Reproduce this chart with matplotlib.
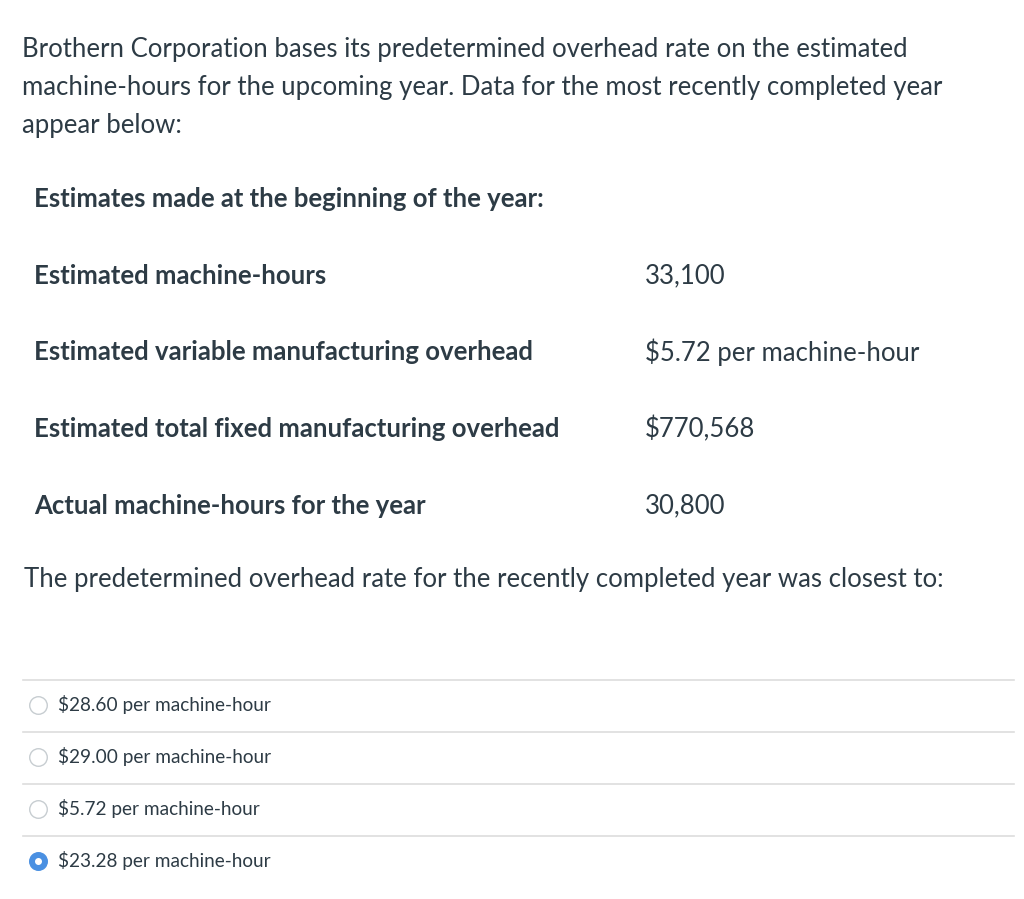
"""
Brothern Corporation overhead rate question, drawn as text
"""
import matplotlib
matplotlib.use('Agg')
import matplotlib.pyplot as plt

plt.rcParams['font.family'] = ['Lato', 'DejaVu Sans']

# question data
intro_lines = [
    'Brothern Corporation bases its predetermined overhead rate on the estimated',
    'machine-hours for the upcoming year. Data for the most recently completed year',
    'appear below:',
]
estimates_header = 'Estimates made at the beginning of the year:'
item_labels = [
    'Estimated machine-hours',
    'Estimated variable manufacturing overhead',
    'Estimated total fixed manufacturing overhead',
    'Actual machine-hours for the year',
]
item_values = [
    '33,100',
    '$5.72 per machine-hour',
    '$770,568',
    '30,800',
]
question = 'The predetermined overhead rate for the recently completed year was closest to:'
answers = [
    '$28.60 per machine-hour',
    '$29.00 per machine-hour',
    '$5.72 per machine-hour',
    '$23.28 per machine-hour',
]
selected = [False, False, False, True]

TEXT = '#2d3b45'
W, H = 1024, 899

fig = plt.figure(figsize=(W / 100, H / 100), dpi=100)
ax = fig.add_axes([0, 0, 1, 1])
ax.set_xlim(0, W)
ax.set_ylim(H, 0)
ax.axis('off')

# intro paragraph
for i, line in enumerate(intro_lines):
    ax.text(22, 49 + i * 38, line, fontsize=18.55, color=TEXT, va='center')

ax.text(34, 199, estimates_header, fontsize=18.5, color=TEXT,
        fontweight='bold', va='center')

# table of estimates
for i, (lab, val) in enumerate(zip(item_labels, item_values)):
    y = 276 + i * 76.5
    ax.text(34, y, lab, fontsize=18.5, color=TEXT, fontweight='bold', va='center')
    ax.text(645, y, val, fontsize=18.5, color=TEXT, va='center')

ax.text(24, 580, question, fontsize=18.5, color=TEXT, va='center')

# answer choices
for i, (ans, sel) in enumerate(zip(answers, selected)):
    y = 705 + i * 52
    ax.plot([23, 1014], [y - 25, y - 25], color='#dddddd', lw=1.2)
    if sel:
        ax.scatter([38], [y], s=160, color='#4a90e2', edgecolors='#4a90e2', zorder=3)
        ax.scatter([38], [y], s=16, color='white', zorder=4)
    else:
        ax.scatter([38], [y], s=160, color='white', edgecolors='#c7cdd1',
                   linewidths=1.0, zorder=3)
    ax.text(58, y, ans, fontsize=13.7, color=TEXT, va='center')

fig.savefig('out.png', dpi=100, facecolor='white')
